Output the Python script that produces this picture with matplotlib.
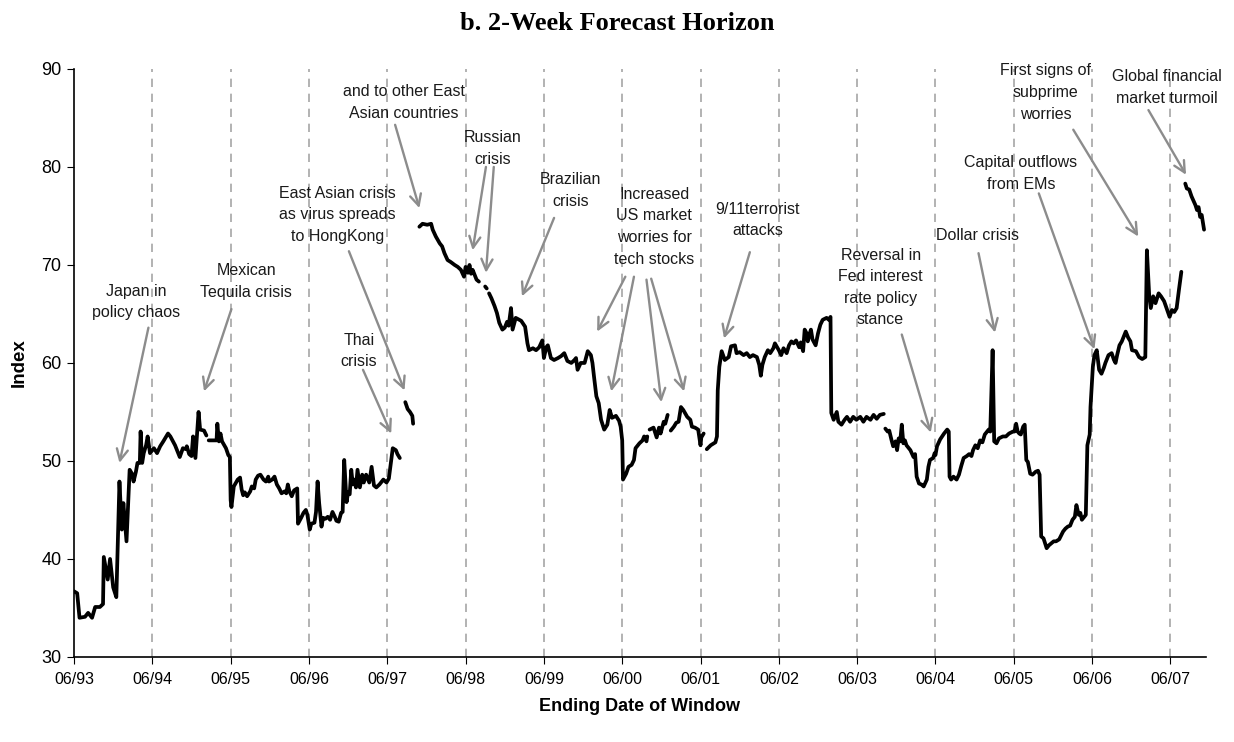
import numpy as np
import matplotlib.pyplot as plt

# weekly index readings (decimal year of window end, index value); NaN = break in the series
years = [
    1993.50, 1993.54, 1993.57, 1993.64, 1993.68, 1993.73, 1993.77, 1993.83, 1993.87, 1993.88,
    1993.93, 1993.96, 1994.00, 1994.04, 1994.08, 1994.11, 1994.13, 1994.17, 1994.21, 1994.24,
    1994.26, 1994.29, 1994.31, 1994.34, 1994.35, 1994.37, 1994.39, 1994.42, 1994.44, 1994.47,
    1994.52, 1994.56, 1994.60, 1994.64, 1994.70, 1994.73, 1994.79, 1994.85, 1994.89, 1994.93,
    1994.94, 1994.97, 1995.00, 1995.02, 1995.05, 1995.09, 1995.11, 1995.16, 1995.19, 1995.20,
    # --
    1995.22, 1995.32, 1995.33, 1995.35, 1995.37, 1995.39, 1995.44, 1995.47, 1995.49, 1995.50,
    1995.51, 1995.54, 1995.59, 1995.62, 1995.64, 1995.66, 1995.68, 1995.71, 1995.75, 1995.77,
    1995.80, 1995.82, 1995.85, 1995.88, 1995.92, 1995.95, 1995.98, 1995.99, 1996.03, 1996.06,
    1996.09, 1996.12, 1996.15, 1996.19, 1996.21, 1996.23, 1996.25, 1996.28, 1996.31, 1996.35,
    1996.36, 1996.40, 1996.43, 1996.46, 1996.48, 1996.51, 1996.53, 1996.57, 1996.59, 1996.61,
    1996.63, 1996.66, 1996.68, 1996.71, 1996.74, 1996.77, 1996.80, 1996.83, 1996.85, 1996.88,
    1996.91, 1996.93, 1996.95, 1996.98, 1997.00, 1997.02, 1997.04, 1997.06, 1997.08, 1997.10,
    1997.12, 1997.15, 1997.18, 1997.20, 1997.23, 1997.27, 1997.30, 1997.33, 1997.36, 1997.40,
    1997.45, 1997.49, 1997.52, 1997.55, 1997.57, 1997.61, 1997.63, 1997.66, 1997.70,
    # --
    1997.73, 1997.76, 1997.79, 1997.82, 1997.83, 1997.87,
    # --
    1997.91, 1997.95, 1998.01, 1998.06, 1998.08, 1998.12, 1998.17, 1998.20, 1998.23, 1998.27,
    1998.31, 1998.36, 1998.40, 1998.44, 1998.48, 1998.50, 1998.53, 1998.55, 1998.57, 1998.59,
    1998.64, 1998.67, 1998.70,
    1998.75, 1998.77, 1998.78,
    # --
    1998.80, 1998.83, 1998.87, 1998.90, 1998.93, 1998.97, 1999.00, 1999.03, 1999.05, 1999.08,
    1999.10, 1999.14, 1999.21, 1999.26, 1999.29, 1999.31, 1999.36, 1999.40, 1999.44, 1999.48,
    1999.50, 1999.53, 1999.55, 1999.59, 1999.63, 1999.68, 1999.72, 1999.76, 1999.80, 1999.85,
    1999.89, 1999.91, 1999.93, 1999.97, 2000.02, 2000.06, 2000.10, 2000.12, 2000.14, 2000.17,
    2000.20, 2000.23, 2000.27, 2000.31, 2000.34, 2000.37, 2000.42, 2000.46, 2000.48, 2000.50,
    2000.51, 2000.55, 2000.58, 2000.62, 2000.65, 2000.67, 2000.72, 2000.76, 2000.78, 2000.81,
    2000.82, 2000.835,
    2000.85, 2000.90, 2000.94, 2000.97, 2000.99, 2001.03, 2001.05, 2001.08, 2001.10,
    2001.12, 2001.16, 2001.19, 2001.22, 2001.25, 2001.28, 2001.33, 2001.37, 2001.39, 2001.43,
    2001.47, 2001.50, 2001.51, 2001.54, 2001.56,
    2001.58, 2001.63, 2001.65, 2001.69, 2001.71, 2001.72, 2001.74, 2001.77, 2001.81, 2001.86,
    2001.89, 2001.94, 2001.96, 2002.00, 2002.05, 2002.09, 2002.13, 2002.17, 2002.22, 2002.25,
    2002.27, 2002.29, 2002.32, 2002.36, 2002.39, 2002.43, 2002.45, 2002.50, 2002.53, 2002.56,
    2002.60, 2002.63, 2002.66, 2002.69, 2002.72, 2002.76, 2002.78, 2002.81, 2002.83, 2002.85,
    2002.87, 2002.89, 2002.91, 2002.93, 2002.97, 2003.00, 2003.03, 2003.06, 2003.11, 2003.14,
    2003.16, 2003.17, 2003.20, 2003.24, 2003.26, 2003.30, 2003.34, 2003.37, 2003.41, 2003.45,
    2003.49, 2003.54, 2003.58, 2003.62, 2003.67, 2003.71, 2003.75, 2003.79, 2003.84, 2003.85,
    # --
    2003.86, 2003.89, 2003.91, 2003.94, 2003.96, 2003.99, 2004.01, 2004.03, 2004.05, 2004.07,
    2004.09, 2004.11, 2004.13, 2004.18, 2004.22, 2004.24, 2004.26, 2004.29, 2004.32, 2004.35,
    2004.39, 2004.41, 2004.43, 2004.47, 2004.49, 2004.50, 2004.52, 2004.56, 2004.61, 2004.65,
    2004.67, 2004.68, 2004.70, 2004.73, 2004.77, 2004.80, 2004.83, 2004.86, 2004.90, 2004.93,
    2004.96, 2004.98, 2005.01, 2005.04, 2005.07, 2005.10, 2005.13, 2005.16, 2005.18, 2005.20,
    2005.23, 2005.25, 2005.28, 2005.31, 2005.36, 2005.40, 2005.44, 2005.49, 2005.51, 2005.53,
    2005.55, 2005.57, 2005.59, 2005.62, 2005.64, 2005.66, 2005.68, 2005.71, 2005.74, 2005.78,
    2005.81, 2005.83, 2005.85, 2005.88, 2005.92, 2005.95, 2005.98, 2006.01, 2006.04, 2006.08,
    2006.13, 2006.16, 2006.19, 2006.22, 2006.25, 2006.28, 2006.30, 2006.33, 2006.35, 2006.37,
    2006.40, 2006.42, 2006.44, 2006.47, 2006.48, 2006.50, 2006.51, 2006.53, 2006.56, 2006.59,
    2006.62, 2006.65, 2006.67, 2006.71, 2006.75, 2006.78, 2006.80, 2006.82, 2006.85, 2006.88,
    2006.90, 2006.93, 2006.96, 2006.99, 2007.01, 2007.06, 2007.10, 2007.14, 2007.18, 2007.20,
    2007.23, 2007.25, 2007.28, 2007.31, 2007.35, 2007.38, 2007.42, 2007.46, 2007.49, 2007.52,
    2007.55, 2007.58, 2007.61, 2007.64, 2007.66,
    # --
    2007.69, 2007.71, 2007.74, 2007.77, 2007.82, 2007.84, 2007.86, 2007.88, 2007.90, 2007.93,
]

index_vals = [
    36.7, 36.5, 34.0, 34.1, 34.5, 34.0, 35.1, 35.1, 35.4, 40.2,
    37.9, 40.0, 37.1, 36.1, 47.9, 43.0, 45.7, 41.8, 49.1, 48.7,
    47.9, 48.9, 49.8, 49.8, 53.0, 49.8, 50.8, 51.6, 52.5, 50.8,
    51.3, 50.8, 51.5, 52.0, 52.8, 52.5, 51.6, 50.4, 51.3, 51.2,
    51.5, 50.7, 50.5, 52.5, 50.3, 55.0, 53.2, 53.1, 52.6, np.nan,
    # --
    52.1, 52.1, 53.8, 52.0, 52.8, 52.0, 51.3, 50.6, 50.4, 46.0,
    45.3, 47.4, 48.1, 48.3, 47.1, 46.5, 46.8, 46.4, 46.9, 47.4,
    47.2, 48.1, 48.5, 48.6, 48.1, 47.9, 48.4, 47.9, 48.1, 48.4,
    47.6, 47.2, 46.7, 46.9, 46.7, 47.6, 46.9, 46.4, 47.0, 47.2,
    43.6, 44.2, 44.7, 45.0, 44.5, 43.0, 43.6, 43.7, 44.8, 47.9,
    45.7, 43.3, 44.2, 44.1, 44.3, 44.0, 44.8, 44.3, 43.9, 43.8,
    44.7, 44.8, 50.1, 45.8, 46.8, 46.6, 49.1, 47.6, 48.1, 47.3,
    49.1, 47.3, 48.6, 47.8, 48.6, 47.8, 49.4, 47.5, 47.3, 47.6,
    48.1, 47.8, 48.2, 50.1, 51.3, 51.1, 50.7, 50.3, np.nan,
    # --
    56.0, 55.3, 55.0, 54.6, 53.8, np.nan,
    # --
    73.9, 74.2, 74.1, 74.2, 73.6, 72.9, 72.2, 71.9, 71.2, 70.5,
    70.3, 70.0, 69.8, 69.5, 68.8, 69.8, 69.2, 70.0, 69.1, 69.5,
    68.5, 68.3, np.nan,
    67.8, 67.6, np.nan,
    # --
    67.1, 66.6, 65.8, 65.1, 64.1, 63.4, 63.6, 64.2, 63.8, 65.6,
    63.4, 64.6, 64.3, 63.7, 62.0, 61.3, 61.5, 61.3, 61.6, 62.3,
    60.5, 61.6, 61.8, 60.5, 60.3, 60.5, 60.7, 61.0, 60.2, 60.0,
    60.3, 60.5, 59.3, 60.0, 60.0, 61.2, 60.8, 60.0, 58.6, 56.6,
    55.9, 54.2, 53.2, 53.7, 55.2, 54.4, 54.6, 54.1, 53.5, 52.1,
    48.1, 48.7, 49.4, 49.6, 50.1, 51.3, 51.8, 52.1, 52.5, 52.0,
    52.5, np.nan,
    53.2, 53.4, 52.4, 53.4, 52.8, 54.0, 53.8, 54.7, np.nan,
    53.1, 53.5, 53.9, 54.0, 55.5, 55.2, 54.5, 54.2, 53.5, 53.4,
    53.2, 51.6, 52.4, 52.8, np.nan,
    51.2, 51.6, 51.7, 51.9, 52.5, 57.2, 59.6, 61.2, 60.3, 60.6,
    61.7, 61.8, 61.0, 61.1, 60.8, 61.0, 60.6, 60.8, 60.6, 59.8,
    58.7, 59.8, 60.6, 61.3, 61.0, 61.5, 62.0, 61.3, 60.8, 61.5,
    61.0, 61.8, 62.2, 62.0, 62.3, 61.6, 62.1, 61.2, 63.4, 63.1,
    62.2, 62.9, 63.4, 62.4, 61.8, 63.0, 63.9, 64.4, 64.6, 64.4,
    64.7, 54.9, 54.2, 55.0, 54.0, 53.7, 54.2, 54.5, 54.0, 54.5,
    54.2, 54.5, 54.0, 54.5, 54.2, 54.7, 54.3, 54.7, 54.8, np.nan,
    # --
    53.3, 53.0, 53.1, 52.1, 51.5, 52.0, 51.1, 52.3, 52.0, 53.7,
    51.8, 52.1, 51.6, 51.1, 50.4, 50.7, 48.4, 47.7, 47.6, 47.4,
    48.1, 49.4, 50.1, 50.3, 50.8, 50.6, 51.5, 52.2, 52.8, 53.2,
    53.0, 48.4, 48.1, 48.4, 48.1, 48.6, 49.5, 50.3, 50.5, 50.7,
    50.5, 51.1, 51.6, 51.3, 52.1, 51.9, 52.7, 53.0, 53.2, 53.0,
    61.3, 52.0, 51.8, 52.3, 52.5, 52.5, 52.8, 53.0, 53.0, 53.8,
    53.0, 52.8, 52.7, 53.5, 53.7, 50.1, 49.9, 48.7, 48.6, 48.9,
    49.0, 48.6, 42.3, 42.1, 41.1, 41.4, 41.6, 41.8, 41.8, 42.0,
    42.8, 43.1, 43.3, 43.4, 44.0, 44.3, 45.5, 44.5, 44.7, 44.0,
    44.3, 44.5, 51.6, 52.7, 55.5, 58.3, 59.6, 60.8, 61.3, 59.3,
    58.9, 59.5, 60.0, 60.8, 61.0, 60.3, 60.0, 60.8, 61.8, 62.2,
    62.6, 63.2, 62.6, 62.2, 61.3, 61.2, 60.6, 60.4, 60.6, 71.5,
    66.8, 65.6, 66.8, 66.1, 67.1, 66.8, 66.3, 65.4, 64.7, 65.4,
    65.2, 65.6, 67.5, 69.3, np.nan,
    # --
    78.3, 77.8, 77.7, 77.0, 76.1, 75.6, 75.9, 74.9, 75.1, 73.6,
]

tick_years = np.arange(1993.5, 2008.0, 1.0)
tick_labels = ["06/93", "06/94", "06/95", "06/96", "06/97", "06/98", "06/99", "06/00",
               "06/01", "06/02", "06/03", "06/04", "06/05", "06/06", "06/07"]

# event notes: label, text centre (year, index), arrows as (tail, head)
events = [
    ("Japan in\npolicy chaos", (1994.29, 66.2), [((1994.45, 63.6), (1994.08, 49.8))]),
    ("Mexican\nTequila crisis", (1995.70, 68.3), [((1995.51, 65.5), (1995.16, 57.1))]),
    ("Thai\ncrisis", (1997.14, 61.2), [((1997.19, 59.3), (1997.55, 52.8))]),
    ("East Asian crisis\nas virus spreads\nto HongKong", (1996.86, 75.1),
     [((1997.01, 71.4), (1997.72, 57.2))]),
    ("and to other East\nAsian countries", (1997.71, 86.6), [((1997.60, 84.3), (1997.91, 75.8))]),
    ("Russian\ncrisis", (1998.85, 81.9),
     [((1998.76, 80.0), (1998.59, 71.5)), ((1998.86, 80.0), (1998.76, 69.2))]),
    ("Brazilian\ncrisis", (1999.84, 77.6), [((1999.63, 74.8), (1999.22, 66.8))]),
    ("Increased\nUS market\nworries for\ntech stocks", (2000.91, 73.9),
     [((2000.54, 68.8), (2000.18, 63.2)), ((2000.65, 68.8), (2000.36, 57.1)),
      ((2000.81, 68.5), (2001.00, 56.0)), ((2000.87, 68.6), (2001.29, 57.1))]),
    ("9/11terrorist\nattacks", (2002.23, 74.6), [((2002.13, 71.3), (2001.80, 62.5))]),
    ("Reversal in\nFed interest\nrate policy\nstance", (2003.80, 67.7),
     [((2004.07, 62.9), (2004.44, 52.9))]),
    ("Dollar crisis", (2005.04, 73.0), [((2005.05, 71.2), (2005.26, 63.1))]),
    ("Capital outflows\nfrom EMs", (2005.59, 79.3), [((2005.82, 77.3), (2006.53, 61.4))]),
    ("First signs of\nsubprime\nworries", (2005.91, 87.6), [((2006.26, 83.8), (2007.09, 72.9))]),
    ("Global financial\nmarket turmoil", (2007.46, 88.1), [((2007.22, 85.8), (2007.70, 79.2))]),
]

plt.rcParams["font.family"] = ["Liberation Sans", "DejaVu Sans"]

fig = plt.figure(figsize=(12.34, 7.42), dpi=100)
ax = fig.add_axes([0.060, 0.1146, 0.917, 0.7925])

for x in tick_years[1:]:
    ax.axvline(x, color="#a6a6a6", lw=1.2, ls=(0, (5, 4)), zorder=1)

ax.plot(years, index_vals, color="black", lw=2.7, solid_capstyle="round", zorder=3)

for label, (tx, ty), arrows in events:
    ax.text(tx, ty, label, ha="center", va="center", fontsize=11.5, color="#1a1a1a",
            linespacing=1.55, zorder=4, clip_on=False)
    for tail, head in arrows:
        ax.annotate("", xy=head, xytext=tail, annotation_clip=False,
                    arrowprops=dict(arrowstyle="->", color="#8c8c8c", lw=1.7,
                                    mutation_scale=20, shrinkA=0, shrinkB=0))

ax.set_xlim(1993.5, 2007.95)
ax.set_ylim(30, 90)
ax.set_yticks(range(30, 91, 10))
ax.set_xticks(tick_years)
ax.set_xticklabels(tick_labels)
ax.tick_params(axis="x", labelsize=11.5, length=5, pad=6)
ax.tick_params(axis="y", labelsize=13, length=5, pad=4)
for s in ("top", "right"):
    ax.spines[s].set_visible(False)
ax.spines["left"].set_linewidth(1.2)
ax.spines["bottom"].set_linewidth(1.2)

ax.set_xlabel("Ending Date of Window", fontsize=13, fontweight="bold", labelpad=8)
ax.set_ylabel("Index", fontsize=13.5, fontweight="bold", labelpad=10)
fig.text(0.5, 0.968, "b. 2-Week Forecast Horizon", ha="center", va="center",
         fontsize=19, fontweight="bold", family=["Liberation Serif", "DejaVu Serif"])

fig.savefig("out.png", dpi=100)
